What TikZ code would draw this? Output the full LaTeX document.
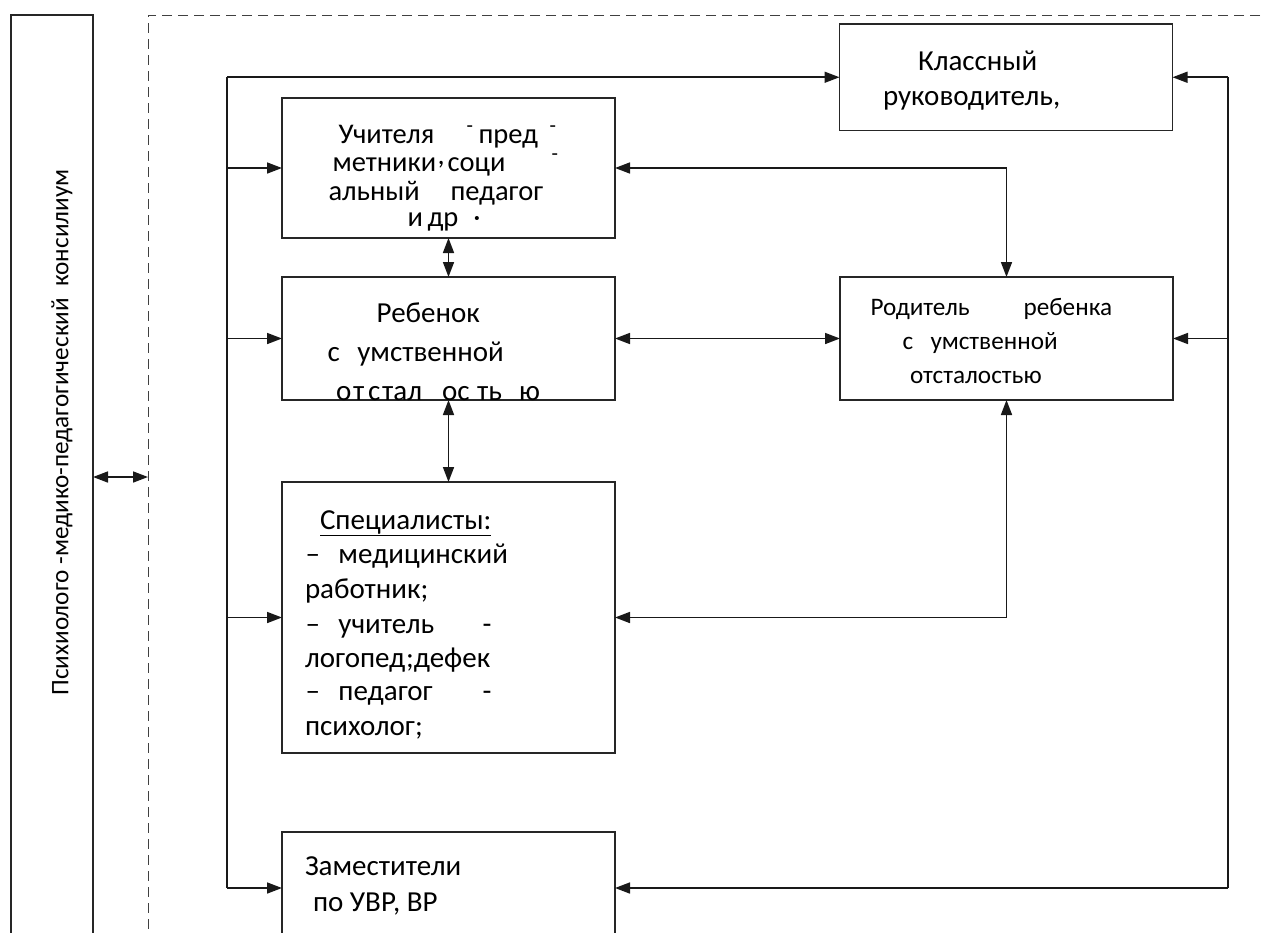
\documentclass[tikz,border=0pt]{standalone}
\usepackage{fontspec}
\setmainfont{Carlito}
\usetikzlibrary{arrows.meta,calc}
\newcommand\tx[2]{\makebox[0pt][l]{\hspace*{#1}#2}}
\newcommand\uph[1]{\raisebox{#1}{\fontsize{21}{21}\selectfont -}}
\begin{document}
\begin{tikzpicture}[x=1pt,y=-1pt,
  box/.style={draw=black!85, line width=1.3pt, inner sep=0pt, outer sep=0pt, rectangle, fill=none},
  conn/.style={line width=1.6pt, draw=black!90},
  tip/.style={-{Triangle[length=15pt,width=11pt]}},
  tips/.style={{Triangle[length=15pt,width=11pt]}-{Triangle[length=15pt,width=11pt]}},
  txt/.style={anchor=base west, inner sep=0pt, outer sep=0pt, text=black},
  fa/.style={font=\fontsize{28.5}{28}\selectfont},
  fb/.style={font=\fontsize{29}{34}\selectfont},
  fc/.style={font=\fontsize{29}{34}\selectfont},
  fd/.style={font=\fontsize{25.2}{30}\selectfont},
]
\useasboundingbox (0,0) rectangle (1261,932);
% frames
\node[box, minimum width=82pt, minimum height=924pt] (psy) at (52,477) {};
\node[box, draw=black!75, line width=1pt, dash pattern=on 10pt off 6pt, minimum width=1142pt, minimum height=924pt] (frame) at (719,477) {};
\node[rotate=90, inner sep=0pt, font=\fontsize{25.2}{30}\selectfont] (psyt) at (62,432.5) {Психиолого -медико-педагогический\ \ консилиум};
% boxes
\node[box, minimum width=333pt, minimum height=106.5pt] (kl) at (1006,77.25) {};
\node[box, minimum width=333pt, minimum height=140pt] (uch) at (448.5,168) {};
\node[box, minimum width=333pt, minimum height=123pt] (reb) at (448.5,338.5) {};
\node[box, minimum width=333pt, minimum height=271pt] (spec) at (448.5,617.5) {};
\node[box, minimum width=333pt, minimum height=112pt] (zam) at (448.5,888) {};
\node[box, minimum width=333pt, minimum height=123pt] (rod) at (1006.5,338.5) {};
% texts
\node[txt,fc] (kl1) at (918,70) {Классный};
\node[txt,fc] (kl2) at (883,105) {руководитель,};

\node[txt,fa] (u1) at (338,143) {\tx{0pt}{Учителя}\tx{128pt}{\uph{11pt}}\tx{140pt}{пред}\tx{211pt}{\uph{11pt}}};
\node[txt,fa] (u2) at (332,171.7) {\tx{0pt}{метники}\tx{105pt}{\raisebox{7pt}{,}}\tx{115pt}{соци}\tx{219pt}{\uph{11pt}}};
\node[txt,fa] (u3) at (328,200) {\tx{0pt}{альный}\tx{122pt}{педагог}};
\node[txt,fa] (u4) at (407,226.7) {\tx{0pt}{и}\tx{20pt}{др}\tx{66pt}{·}};

\node[txt,fb] (r1) at (376.7,322.7) {Ребенок};
\node[txt,fb] (r2) at (327,361.7) {\tx{0pt}{с}\tx{30pt}{умственной}};
\node[txt,fb] (r3) at (335.7,400.7) {\tx{0pt}{о}\tx{17pt}{т}\tx{32pt}{с}\tx{46pt}{тал}\tx{106pt}{ос}\tx{141pt}{ть}\tx{183pt}{ю}};

\node[txt,fc] (s1) at (320,529) {\underline{Специалисты:}};
\node[txt,fc] (s2) at (305,563) {\tx{0pt}{–}\tx{33pt}{медицинский}};
\node[txt,fc] (s3) at (305,598) {работник;};
\node[txt,fc] (s4) at (305,633) {\tx{0pt}{–}\tx{33pt}{учитель}\tx{177pt}{-}};
\node[txt,fc] (s5) at (305,667) {логопед;дефек};
\node[txt,fc] (s6) at (305,700) {\tx{0pt}{–}\tx{33pt}{педагог}\tx{177pt}{-}};
\node[txt,fc] (s7) at (305,735) {психолог;};

\node[txt,fd] (p1) at (870,315) {\tx{0pt}{Родитель}\tx{153pt}{ребенка}};
\node[txt,fd] (p2) at (902,349) {\tx{0pt}{с}\tx{28pt}{умственной}};
\node[txt,fd] (p3) at (910,383) {отсталостью};

\node[txt,fc] (z1) at (305,875) {Заместители};
\node[txt,fc] (z2) at (313,911) {по УВР, ВР};
% connectors
\coordinate (busL) at (227,0);
\coordinate (busR) at (1228,0);
\draw[conn] (kl.west -| busL) -- (zam.west -| busL);
\draw[conn,tip] (kl.west -| busL) -- (kl.west);
\draw[conn,tip] (uch.west -| busL) -- (uch.west);
\draw[conn,tip] (reb.west -| busL) -- (reb.west);
\draw[conn,tip] (spec.west -| busL) -- (spec.west);
\draw[conn,tip] (zam.west -| busL) -- (zam.west);
\draw[conn] (kl.east -| busR) -- (zam.east -| busR);
\draw[conn,tip] (kl.east -| busR) -- (kl.east);
\draw[conn,tip] (rod.east -| busR) -- (rod.east);
\draw[conn,tip] (zam.east -| busR) -- (zam.east);
\draw[conn,tips] (uch.south) -- (reb.north);
\draw[conn,tips] (reb.south) -- (spec.north);
\draw[conn,tips] (reb.east) -- (rod.west);
\draw[conn,tips] (uch.east) -- (uch.east -| rod.north) -- (rod.north);
\draw[conn,tips] (spec.east) -- (spec.east -| rod.south) -- (rod.south);
\draw[conn,tips] (psy.east) -- (frame.west);
\end{tikzpicture}
\end{document}
